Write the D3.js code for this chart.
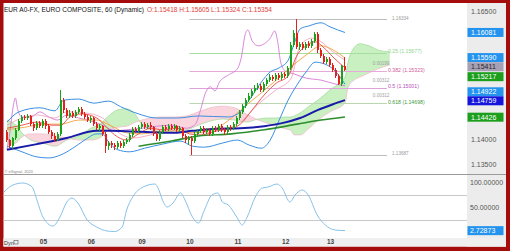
<!DOCTYPE html>
<html><head><meta charset="utf-8">
<script src="https://cdn.jsdelivr.net/npm/d3@7"></script>
<style>html,body{margin:0;padding:0;background:#fff;}svg{display:block;font-family:"Liberation Sans",Arial,sans-serif;}</style>
</head><body><svg id="c" width="510" height="251"></svg>
<script>
// ---------------- DATA ----------------
const titleText = "EUR A0-FX, EURO COMPOSITE, 60 (Dynamic)";
const ohlcText = "O:1.15418 H:1.15605 L:1.15324 C:1.15354";
const dayLabels = ["05","06","09","10","11","12","13"];
const dayIndex = [12,28,45,61,77,93,108];
const priceTicks = [1.135,1.140,1.145,1.150,1.155,1.160,1.165];
const oscTicks = [50,100];
const firstOpen = 1.1414;
const closes = [
1.1398,1.1386,1.1402,1.1418,1.1435,1.1443,1.1441,1.1445,1.1429,1.1421,
1.1431,1.1425,1.1435,1.1425,1.1414,1.1406,1.1398,1.1410,1.1476,1.1457,
1.1445,1.1451,1.1445,1.1453,1.1459,1.1449,1.1443,1.1437,1.1441,1.1429,
1.1421,1.1425,1.1410,1.1386,1.1392,1.1388,1.1384,1.1392,1.1386,1.1394,
1.1398,1.1408,1.1420,1.1416,1.1423,1.1429,1.1423,1.1427,1.1423,1.1410,
1.1400,1.1414,1.1423,1.1420,1.1425,1.1421,1.1425,1.1418,1.1421,1.1406,
1.1398,1.1402,1.1396,1.1410,1.1416,1.1421,1.1414,1.1418,1.1410,1.1421,
1.1418,1.1425,1.1418,1.1414,1.1423,1.1421,1.1429,1.1441,1.1453,1.1464,
1.1476,1.1484,1.1494,1.1500,1.1504,1.1496,1.1507,1.1515,1.1521,1.1517,
1.1525,1.1519,1.1527,1.1523,1.1539,1.1584,1.1607,1.1580,1.1586,1.1578,
1.1586,1.1582,1.1591,1.1605,1.1574,1.1562,1.1550,1.1556,1.1545,1.1535,
1.1523,1.1507,1.15418,1.15354];
const highs = [
1.1418,1.1400,1.1404,1.1421,1.1439,1.1447,1.1447,1.1449,1.1447,1.1433,
1.1435,1.1435,1.1439,1.1439,1.1429,1.1418,1.1412,1.1414,1.1496,1.1480,
1.1461,1.1457,1.1455,1.1457,1.1463,1.1463,1.1453,1.1447,1.1445,1.1443,
1.1433,1.1429,1.1427,1.1414,1.1396,1.1396,1.1392,1.1396,1.1396,1.1398,
1.1402,1.1412,1.1423,1.1423,1.1427,1.1433,1.1433,1.1431,1.1433,1.1425,
1.1414,1.1418,1.1427,1.1427,1.1429,1.1429,1.1429,1.1427,1.1425,1.1423,
1.1410,1.1406,1.1406,1.1414,1.1420,1.1425,1.1425,1.1421,1.1421,1.1425,
1.1425,1.1429,1.1429,1.1421,1.1427,1.1427,1.1433,1.1445,1.1457,1.1468,
1.1480,1.1490,1.1498,1.1506,1.1509,1.1507,1.1511,1.1519,1.1527,1.1525,
1.1529,1.1529,1.1531,1.1531,1.1543,1.1590,1.1613,1.1634,1.1590,1.1590,
1.1590,1.1591,1.1595,1.1609,1.1609,1.1578,1.1566,1.1560,1.1560,1.1548,
1.1539,1.1527,1.1545,1.15605];
const lows = [
1.1394,1.1382,1.1380,1.1398,1.1416,1.1431,1.1437,1.1437,1.1425,1.1416,
1.1418,1.1421,1.1421,1.1420,1.1410,1.1400,1.1394,1.1396,1.1406,1.1451,
1.1441,1.1441,1.1441,1.1441,1.1449,1.1445,1.1439,1.1433,1.1431,1.1425,
1.1418,1.1416,1.1406,1.1373,1.1379,1.1382,1.1379,1.1380,1.1382,1.1382,
1.1390,1.1394,1.1404,1.1412,1.1412,1.1420,1.1420,1.1420,1.1418,1.1406,
1.1396,1.1396,1.1410,1.1416,1.1416,1.1418,1.1418,1.1414,1.1414,1.1402,
1.1392,1.1388,1.1369,1.1392,1.1406,1.1412,1.1410,1.1410,1.1406,1.1406,
1.1414,1.1414,1.1414,1.1408,1.1410,1.1416,1.1418,1.1425,1.1437,1.1449,
1.1461,1.1472,1.1480,1.1490,1.1496,1.1492,1.1492,1.1504,1.1511,1.1513,
1.1513,1.1515,1.1515,1.1519,1.1519,1.1535,1.1580,1.1576,1.1574,1.1574,
1.1574,1.1578,1.1578,1.1588,1.1568,1.1558,1.1547,1.1547,1.1541,1.1531,
1.1519,1.1506,1.1504,1.15324];

const bbUpperIdx = [0,4,11,16,19,24,29,34,38,44,50,57,64,74,78,81,85,88,91,94,96,98,101,105,108,113];
const bbUpper = [1.1433,1.1453,1.1461,1.1455,1.1476,1.1478,1.1470,1.1474,1.1463,1.1449,1.1441,1.1441,1.1445,1.1443,1.1453,1.1476,1.1511,1.1531,1.1539,1.1554,1.1586,1.1615,1.1621,1.1627,1.1619,1.1608];
const bbLowerIdx = [0,5,10,14,18,22,26,30,32,34,37,41,46,52,58,62,66,72,77,81,85,88,91,94,97,100,103,106,110,113];
const bbLower = [1.1386,1.1375,1.1365,1.1363,1.1369,1.1382,1.1398,1.1410,1.1410,1.1394,1.1379,1.1375,1.1382,1.1390,1.1396,1.1386,1.1384,1.1392,1.1398,1.1388,1.1382,1.1398,1.1437,1.1476,1.1506,1.1531,1.1550,1.1547,1.1531,1.1507];
const redMaIdx = [0,5,10,15,18,21,25,30,33,36,40,44,48,52,57,61,65,70,75,78,82,86,90,94,97,100,103,106,109,113];
const redMa = [1.1421,1.1427,1.1433,1.1427,1.1427,1.1443,1.1449,1.1441,1.1425,1.1408,1.1398,1.1410,1.1421,1.1418,1.1421,1.1410,1.1408,1.1416,1.1420,1.1429,1.1457,1.1486,1.1509,1.1523,1.1564,1.1582,1.1590,1.1578,1.1560,1.1539];
const orangeMaIdx = [0,6,12,18,24,30,35,40,45,50,56,62,70,75,80,85,90,95,100,105,109,113];
const orangeMa = [1.1418,1.1423,1.1429,1.1429,1.1437,1.1437,1.1425,1.1412,1.1410,1.1414,1.1416,1.1412,1.1421,1.1441,1.1466,1.1490,1.1515,1.1541,1.1564,1.1582,1.1574,1.1558];
const pinkIdx = [0,5,10,16,20,26,32,36,42,48,54,60,66,72,78,84,90,95,98,102,105,109,113];
const pinkLine = [1.1427,1.1441,1.1447,1.1441,1.1453,1.1451,1.1441,1.1418,1.1402,1.1408,1.1418,1.1414,1.1412,1.1418,1.1433,1.1468,1.1496,1.1519,1.1582,1.1597,1.1590,1.1570,1.1554];
const magentaIdx = [0,1,2,2.8,3.6,5,8,11,14,17,20,24,28,32,36,40,45,50,55,60,63,64.5,66.5,68,69.5,71,74,77,78.5,79.5,80.5,82,84,86,88,89.5,90.5,91.5,93,96,100,105,110,113];
const magentaLine = [1.1379,1.1414,1.1461,1.1480,1.1457,1.1443,1.1443,1.1453,1.1443,1.1437,1.1447,1.1441,1.1435,1.1427,1.1416,1.1418,1.1421,1.1425,1.1427,1.1421,1.1429,1.1453,1.1492,1.1502,1.1494,1.1511,1.1525,1.1537,1.1564,1.1601,1.1613,1.1591,1.1582,1.1586,1.1597,1.1611,1.1590,1.1550,1.1533,1.1527,1.1519,1.1515,1.1507,1.1504];
const slowMaIdx = [0,10,20,30,35,45,55,62,70,78,86,92,98,104,109,113];
const slowMa = [1.1379,1.1390,1.1402,1.1416,1.1416,1.1414,1.1412,1.1416,1.1420,1.1421,1.1425,1.1431,1.1441,1.1457,1.1468,1.1476];
const trendIdx = [44,55,64,75,86,97,105,113];
const trendMa = [1.1386,1.1396,1.1406,1.1410,1.1418,1.1429,1.1437,1.1443];
const cloudIdx = [0,3,5,8,12,16,20,24,28,31,34,37,40,43,45,48,52,56,60,64,68,72,76,80,84,87,90,93,95,96,98,101,104,108,113,114,116,118,121,124,128];
const spanA = [1.1437,1.1427,1.1412,1.1398,1.1392,1.1386,1.1398,1.1406,1.1421,1.1429,1.1445,1.1457,1.1459,1.1447,1.1429,1.1418,1.1414,1.1416,1.1418,1.1427,1.1435,1.1439,1.1437,1.1433,1.1439,1.1441,1.1441,1.1443,1.1443,1.1445,1.1451,1.1464,1.1476,1.1496,1.1521,1.1550,1.1578,1.1586,1.1582,1.1574,1.1570];
const spanB = [1.1388,1.1392,1.1404,1.1410,1.1410,1.1406,1.1402,1.1398,1.1398,1.1402,1.1418,1.1423,1.1425,1.1433,1.1437,1.1441,1.1443,1.1443,1.1445,1.1453,1.1461,1.1464,1.1461,1.1449,1.1437,1.1431,1.1425,1.1420,1.1416,1.1408,1.1408,1.1421,1.1437,1.1453,1.1470,1.1500,1.1515,1.1521,1.1529,1.1537,1.1545];
const fibValues = [1.16334,1.15677,1.15323,1.15001,1.14698,1.13687];
const fibLabels = ["1.16334","0.25 (1.15677)","0.382 (1.15323)","0.5 (1.15001)","0.618 (1.14698)","1.13687"];
const noteValues = [1.1548,1.1515,1.1486];
const noteLabels = ["0.00199","0.00312","0.00312"];
const boxValues = [1.16081,1.15590,1.15411,1.15217,1.14922,1.14759,1.14426];
const oscIdx = [-1,2,5.3,8.4,10,12,15.4,17.7,20,21.7,23.7,26.8,30,33.4,36,38.5,40,42,45.5,49.5,50.5,52,53.5,55.5,58,59.5,62,64,66,68.5,70.5,72,74,77,78.6,80.3,83,85.3,87.3,90.3,92,94.6,96.3,98.7,100.7,103.7,106.4,109.7,113];
const oscVal = [80,94,98,90,64,30,12,30,60,68,58,24,10,2,1,10,44,70,90,96,88,64,50,58,78,64,30,18,44,74,78,60,54,28,14,30,70,88,90,96,88,60,74,84,74,34,14,4,2.72873];
const oscLast = 2.72873;

// ---------------- STYLE ----------------
const boxColors = ["#2393ee","#2393ee","#a79fb4","#1c9f1c","#2393ee","#1414dc","#1c9f1c"];
const boxTextColors = ["#fff","#fff","#2a2a2a","#fff","#fff","#fff","#fff"];
const fibColors = ["#bdbdbd","#a6dea0","#e7a9d9","#dca2d9","#b9d8b2","#bdbdbd"];
const fibTextColors = ["#999","#8fd48f","#d0589b","#b650b6","#3f9b3f","#999"];

const svg = d3.select("#c");
const x = d3.scaleLinear().domain([0,113]).range([7,345]);
const yP = d3.scaleLinear().domain([1.165,1.135]).range([11,164.6]);
const yO = d3.scaleLinear().domain([0,100]).range([232,182]);

// frame & backgrounds
svg.append("rect").attr("width",510).attr("height",251).attr("fill","#a50d0d");
svg.append("rect").attr("x",3.5).attr("y",3).attr("width",502.5).attr("height",243.5).attr("fill","#fff");
svg.append("rect").attr("x",467).attr("y",3).attr("width",39).attr("height",243.5).attr("fill","#ececec");
svg.append("rect").attr("x",3.5).attr("y",238).attr("width",502.5).attr("height",8.5).attr("fill","#efefef");
svg.append("line").attr("x1",3.5).attr("x2",506).attr("y1",174.5).attr("y2",174.5).attr("stroke","#9a9a9a").attr("stroke-width",1);
[75,25].forEach(v=>svg.append("line").attr("x1",3.5).attr("x2",467).attr("y1",Math.round(yO(v))+0.5).attr("y2",Math.round(yO(v))+0.5).attr("stroke","#c9c9c9"));

const defs = svg.append("defs");
defs.append("clipPath").attr("id","mainClip").append("rect").attr("x",3.5).attr("y",3).attr("width",463.5).attr("height",171);
defs.append("clipPath").attr("id","oscClip").append("rect").attr("x",3.5).attr("y",175).attr("width",463.5).attr("height",63);

const cloud = cloudIdx.map((d,k)=>({i:d,a:spanA[k],b:spanB[k]}));
const cv = d3.curveMonotoneX;
defs.append("clipPath").attr("id","aboveB").append("path")
  .attr("d", d3.area().x(d=>x(d.i)).y0(0).y1(d=>yP(d.b)).curve(cv)(cloud));
defs.append("clipPath").attr("id","belowB").append("path")
  .attr("d", d3.area().x(d=>x(d.i)).y0(d=>yP(d.b)).y1(300).curve(cv)(cloud));

const main = svg.append("g").attr("clip-path","url(#mainClip)");
const areaAB = d3.area().x(d=>x(d.i)).y0(d=>yP(d.b)).y1(d=>yP(d.a)).curve(cv);
main.append("g").attr("clip-path","url(#aboveB)").append("path").attr("d",areaAB(cloud)).attr("fill","#c8f0c1");
main.append("g").attr("clip-path","url(#belowB)").append("path").attr("d",areaAB(cloud)).attr("fill","#fad5dd");
main.append("path").attr("d",d3.line().x(d=>x(d.i)).y(d=>yP(d.a)).curve(cv)(cloud)).attr("fill","none").attr("stroke","#9fd89a").attr("stroke-width",0.7);
main.append("path").attr("d",d3.line().x(d=>x(d.i)).y(d=>yP(d.b)).curve(cv)(cloud)).attr("fill","none").attr("stroke","#efb6c4").attr("stroke-width",0.7);

// fib lines
fibValues.forEach((v,k)=>{
  const yy = Math.round(yP(v))+0.5;
  main.append("line").attr("x1",x(61)).attr("x2",x(127)).attr("y1",yy).attr("y2",yy).attr("stroke",fibColors[k]).attr("stroke-width",1);
});

function drawLine(idx, vals, color, w){
  const pts = idx.map((d,k)=>[x(d), yP(vals[k])]);
  main.append("path").attr("d", d3.line().curve(cv)(pts)).attr("fill","none").attr("stroke",color).attr("stroke-width",w).attr("stroke-linejoin","round");
}
drawLine(magentaIdx, magentaLine, "#d57bd6", 0.9);
drawLine(pinkIdx, pinkLine, "#f39ab6", 0.8);
drawLine(orangeMaIdx, orangeMa, "#f2a23f", 0.9);
drawLine(redMaIdx, redMa, "#e6463e", 0.9);
drawLine(bbUpperIdx, bbUpper, "#3a8fe2", 1);
drawLine(bbLowerIdx, bbLower, "#3a8fe2", 1);
drawLine(slowMaIdx, slowMa, "#1a1aa8", 2);
drawLine(trendIdx, trendMa, "#2e8e2e", 1.6);

// candles
const bars = closes.map((c,i)=>({i, o: i===0?firstOpen:closes[i-1], h:highs[i], l:lows[i], c}));
const cg = main.append("g").attr("shape-rendering","crispEdges");
bars.forEach(b=>{
  const up = b.c >= b.o;
  const col = up ? "#18a318" : "#e4201c";
  const cx = Math.round(x(b.i));
  const hi = Math.max(b.h,b.o,b.c), lo = Math.min(b.l,b.o,b.c);
  cg.append("rect").attr("x",cx-1).attr("width",1).attr("y",yP(hi)).attr("height",Math.max(1,yP(lo)-yP(hi))).attr("fill",col);
  const top = yP(Math.max(b.o,b.c)), bot = yP(Math.min(b.o,b.c));
  cg.append("rect").attr("x",cx-1.5).attr("width",2).attr("y",top).attr("height",Math.max(1,bot-top)).attr("fill",col);
});

// fib & note labels
fibValues.forEach((v,k)=>{
  const isPrice = (k===0||k===5);
  svg.append("text").attr("x", isPrice?392:388).attr("y",yP(v)-1.5).attr("dy","0.35em")
    .attr("font-size", isPrice?4.6:5.2).attr("fill",fibTextColors[k]).text(fibLabels[k]);
});
noteValues.forEach((v,k)=>{
  svg.append("text").attr("x",x(122.3)).attr("y",yP(v)).attr("dy","0.35em").attr("font-size",4.6).attr("fill","#a0a0a0").text(noteLabels[k]);
});

// oscillator
const osc = svg.append("g").attr("clip-path","url(#oscClip)");
osc.append("path").attr("d", d3.line().x((d,k)=>x(oscIdx[k])).y(d=>yO(d)).curve(d3.curveMonotoneX)(oscVal))
  .attr("fill","none").attr("stroke","#86c1e8").attr("stroke-width",1);

// boxes (positions resolved first so covered ticks can be skipped)
const boxes = boxValues.map((v,k)=>({v, y:yP(v), c:boxColors[k], t:boxTextColors[k]})).sort((a,b)=>a.y-b.y);
for(let k=1;k<boxes.length;k++){ if(boxes[k].y-boxes[k-1].y<9) boxes[k].y = boxes[k-1].y+9; }
const visibleTicks = priceTicks.filter(t=>boxes.every(b=>Math.abs(b.y-yP(t))>9));

// right price axis
const pAxis = svg.append("g").attr("transform","translate(471,0)")
  .call(d3.axisRight(yP).tickValues(visibleTicks).tickFormat(d3.format(".5f")).tickSize(0).tickPadding(0));
pAxis.select(".domain").remove();
pAxis.selectAll("text").attr("font-size",7).attr("fill","#555").attr("font-family","'Liberation Sans',Arial,sans-serif");

boxes.forEach(b=>{
  svg.append("rect").attr("x",467.5).attr("y",b.y-4.5).attr("width",36).attr("height",9).attr("fill",b.c);
  svg.append("text").attr("x",471).attr("y",b.y).attr("dy","0.35em").attr("font-size",7).attr("fill",b.t).text(d3.format(".5f")(b.v));
});

// osc axis
const oAxis = svg.append("g").attr("transform","translate(470,0)")
  .call(d3.axisRight(yO).tickValues(oscTicks).tickFormat(d3.format(".5f")).tickSize(0).tickPadding(0));
oAxis.select(".domain").remove();
oAxis.selectAll("text").attr("font-size",7).attr("fill","#555").attr("font-family","'Liberation Sans',Arial,sans-serif");
svg.append("rect").attr("x",467.5).attr("y",yO(oscLast)-4.5).attr("width",36).attr("height",9).attr("fill","#2393ee");
svg.append("text").attr("x",470).attr("y",yO(oscLast)).attr("dy","0.35em").attr("font-size",7).attr("fill","#fff").text(d3.format(".5f")(oscLast));

// x axis
const xAxis = svg.append("g").attr("transform","translate(0,238)")
  .call(d3.axisBottom(x).tickValues(dayIndex).tickFormat((d,k)=>dayLabels[k]).tickSize(0).tickPadding(1.5));
xAxis.select(".domain").remove();
xAxis.selectAll("text").attr("font-size",6.5).attr("font-weight","bold").attr("fill","#444").attr("font-family","'Liberation Sans',Arial,sans-serif");
svg.append("text").attr("x",4).attr("y",244.5).attr("font-size",5.5).attr("fill","#333").text("Dyn");
svg.append("rect").attr("x",14).attr("y",240.5).attr("width",4).attr("height",3.5).attr("fill","none").attr("stroke","#555").attr("stroke-width",0.6);

// titles
svg.append("text").attr("x",4).attr("y",11.5).attr("font-size",6.8).attr("fill","#111")
  .attr("textLength",140).attr("lengthAdjust","spacingAndGlyphs").text(titleText);
svg.append("text").attr("x",147).attr("y",11.5).attr("font-size",6.8).attr("fill","#e0403a")
  .attr("textLength",125).attr("lengthAdjust","spacingAndGlyphs").text(ohlcText);
svg.append("text").attr("x",4.5).attr("y",172.5).attr("font-size",4).attr("fill","#888").text("© eSignal, 2020");
</script>
</body></html>
